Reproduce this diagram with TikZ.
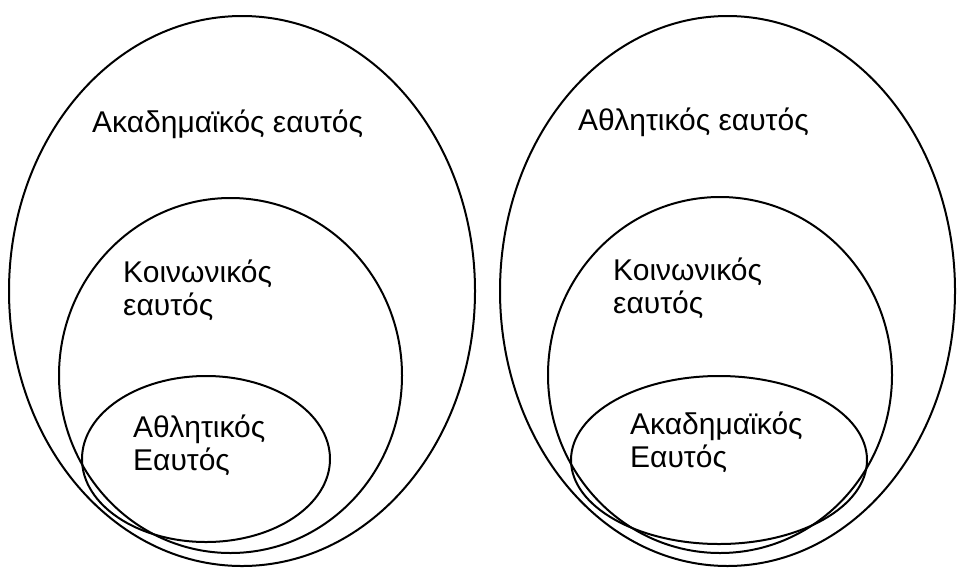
\documentclass[tikz,border=0pt]{standalone}
\usepackage{fontspec}
\setmainfont{Liberation Sans}
\tikzset{
  self/.style={line width=2pt},
  lbl/.style={anchor=base west, inner sep=0pt, align=left,
    font=\fontsize{30}{33}\selectfont}
}
\begin{document}
\begin{tikzpicture}[x=1pt, y=-1pt]
    \useasboundingbox (0,0) rectangle (957,568);

    % Left: academic self outside
    \draw[self] (242,291) ellipse (233pt and 275pt);
    \draw[self] (230.5,375.5) ellipse (171.5pt and 177.5pt);
    \draw[self] (206,459) ellipse (124pt and 83pt);
    \node[lbl] (akadL) at (92,132) {Ακαδημαϊκός εαυτός};
    \node[lbl] (koinL) at (123,315) {Κοινωνικός\\εαυτός};
    \node[lbl] (athlL) at (133,470) {Αθλητικός\\Εαυτός};

    % Right: athletic self outside
    \draw[self] (727.5,291) ellipse (227.5pt and 275pt);
    \draw[self] (720,375) ellipse (172pt and 178pt);
    \draw[self] (719,460) ellipse (148pt and 84pt);
    \node[lbl] (athlR) at (578,130) {Αθλητικός εαυτός};
    \node[lbl] (koinR) at (613,313) {Κοινωνικός\\εαυτός};
    \node[lbl] (akadR) at (630,467) {Ακαδημαϊκός\\Εαυτός};
\end{tikzpicture}
\end{document}
